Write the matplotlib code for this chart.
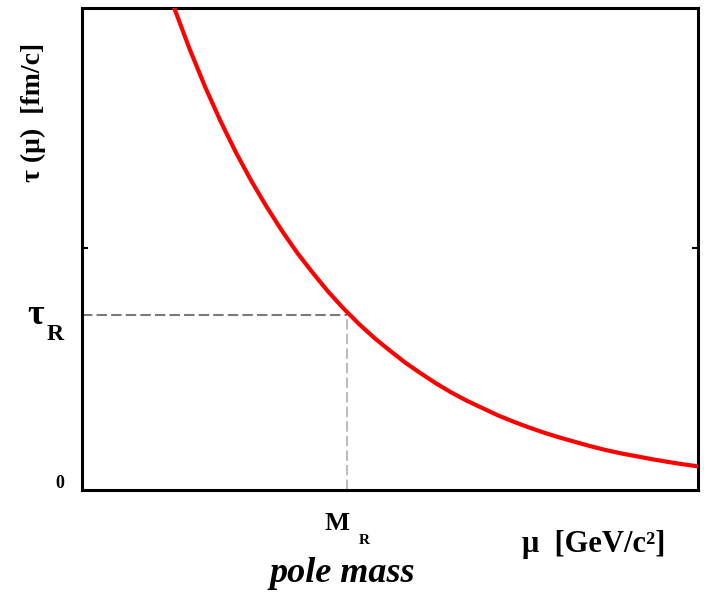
import matplotlib
matplotlib.use("Agg")
import matplotlib.pyplot as plt

# curve (arbitrary units, axes span 0..10 on both)
mu = [1.50, 1.75, 2.00, 2.25, 2.50, 2.75, 3.00, 3.25, 3.50, 3.75, 4.00, 4.25,
      4.50, 4.75, 5.00, 5.25, 5.50, 5.75, 6.00, 6.25, 6.50, 6.75, 7.00, 7.25,
      7.50, 7.75, 8.00, 8.25, 8.50, 8.75, 9.00, 9.25, 9.50, 9.75, 10.0]
tau = [9.99, 9.14, 8.36, 7.65, 7.00, 6.41, 5.87, 5.37, 4.91, 4.50, 4.11, 3.76,
       3.44, 3.15, 2.89, 2.64, 2.42, 2.21, 2.02, 1.85, 1.70, 1.55, 1.42, 1.30,
       1.19, 1.09, 1.00, 0.91, 0.83, 0.76, 0.70, 0.64, 0.585, 0.535, 0.49]

M_R = 4.3
tau_R = 3.63
ytick_pos = [5.02]

W, H = 704, 593
fig = plt.figure(figsize=(W / 100, H / 100), dpi=100)
ax = fig.add_axes([82 / W, 1 - 490 / H, 616 / W, 482 / H])

ax.plot(mu, tau, color='red', lw=3.0, solid_joinstyle='round', zorder=3)

# dashed guides to the pole mass point
ax.plot([0, M_R], [tau_R, tau_R], color='#7a7a7a', lw=1.5, dashes=(5, 2), zorder=2)
ax.plot([M_R, M_R], [0, tau_R], color='#bdbdbd', lw=1.5, dashes=(5, 2), zorder=2)

ax.set_xlim(0, 10)
ax.set_ylim(0, 10)
ax.set_xticks([])
ax.set_yticks(ytick_pos)
ax.set_yticklabels([])
ax.tick_params(axis='y', direction='in', length=4, width=1.5, left=True, right=True)
for s in ax.spines.values():
    s.set_linewidth(2.2)

serif = 'Liberation Serif'

def ftext(x, y, s, **kw):
    fig.text(x / W, 1 - y / H, s, family=serif, **kw)

ftext(60, 484, '0', size=13, weight='bold', ha='center', va='center')
ftext(36, 316, 'τ', size=26, weight='bold', ha='center', va='center')
ftext(55, 334, 'R', size=17, weight='bold', ha='center', va='center')
ftext(337, 523, 'M', size=19, weight='bold', ha='center', va='center')
ftext(364, 540, 'R', size=11, weight='bold', ha='center', va='center')
ftext(342, 573, 'pole mass', size=26, weight='bold', style='italic', ha='center', va='center')
ftext(522, 552, 'μ  [GeV/c²]', size=22, weight='bold', ha='left', va='baseline')
ftext(33, 112, 'τ (μ)  [fm/c]', size=20, weight='bold', ha='center', va='center', rotation=90)

fig.savefig('out.png', dpi=100)
